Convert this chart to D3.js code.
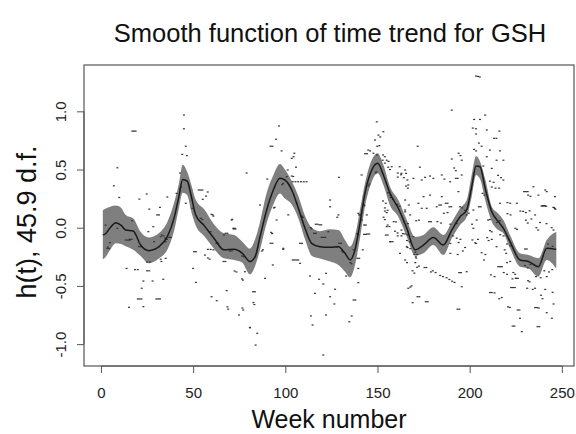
<!DOCTYPE html>
<html><head><meta charset="utf-8">
<script src="https://cdn.jsdelivr.net/npm/d3@7"></script>
<style>
html,body{margin:0;padding:0;background:#fff;}
svg{display:block;font-family:"Liberation Sans",Arial,Helvetica,sans-serif;}
</style></head>
<body><svg id="chart" width="576" height="434"></svg>
<script>
// ---- data ----
const titleText = "Smooth function of time trend for GSH";
const xLabel = "Week number";
const yLabel = "h(t), 45.9 d.f.";
const xTicks = [0, 50, 100, 150, 200, 250];
const yTicks = [-1.0, -0.5, 0.0, 0.5, 1.0];
const yTickLabels = ["-1.0", "-0.5", "0.0", "0.5", "1.0"];

// smooth fit h(t) with confidence band
const curveWeeks = [1,2,5,8,11,13.4,17.5,21.5,26,31.5,36,39.6,42.3,44.3,46.8,49,51.4,55.9,61.3,66.7,72.2,76.7,80.8,83.6,86.3,89.9,93.5,97.1,99.8,103.5,107.1,110.7,114.3,118.8,124.3,128.8,132.4,135.1,137.8,140.5,143.2,146.9,150.1,153.2,156.8,161.3,165.9,170.4,174.9,180.3,185.7,190.3,194.8,198.4,201.1,203.5,205.6,208.4,212,215.6,218.3,221.9,227.3,231.9,237.3,241.8,247];
const fitValues = [-0.06,-0.057,0.0,0.043,0.02,-0.02,-0.028,-0.149,-0.197,-0.163,-0.077,0.08,0.27,0.415,0.40,0.27,0.11,0.02,-0.09,-0.19,-0.186,-0.22,-0.29,-0.25,-0.077,0.152,0.324,0.424,0.41,0.324,0.167,-0.005,-0.134,-0.163,-0.168,-0.163,-0.22,-0.277,-0.19,0.038,0.295,0.496,0.553,0.453,0.295,0.167,-0.005,-0.19,-0.149,-0.083,-0.149,-0.02,0.094,0.152,0.352,0.53,0.524,0.34,0.137,0.052,-0.005,-0.12,-0.277,-0.29,-0.335,-0.177,-0.186];
const upperValues = [0.15,0.16,0.18,0.19,0.17,0.11,0.08,-0.034,-0.083,-0.045,0.05,0.21,0.38,0.54,0.48,0.37,0.24,0.16,0.03,-0.048,-0.063,-0.12,-0.18,-0.10,0.05,0.30,0.45,0.547,0.50,0.40,0.27,0.10,0.0,-0.03,-0.014,-0.02,-0.106,-0.163,-0.07,0.152,0.38,0.582,0.64,0.539,0.352,0.238,0.066,-0.08,-0.063,0.003,-0.063,0.05,0.167,0.238,0.453,0.616,0.57,0.42,0.18,0.12,0.066,-0.063,-0.22,-0.235,-0.263,-0.106,-0.034];
const lowerValues = [-0.27,-0.26,-0.19,-0.134,-0.14,-0.16,-0.19,-0.243,-0.306,-0.263,-0.19,-0.03,0.167,0.30,0.28,0.14,0.02,-0.07,-0.18,-0.263,-0.277,-0.30,-0.40,-0.33,-0.19,0.04,0.20,0.295,0.25,0.20,0.08,-0.10,-0.24,-0.265,-0.29,-0.32,-0.378,-0.426,-0.32,-0.09,0.18,0.395,0.467,0.367,0.19,0.094,-0.077,-0.24,-0.22,-0.149,-0.235,-0.09,0.023,0.094,0.267,0.453,0.42,0.238,0.052,-0.02,-0.048,-0.177,-0.335,-0.35,-0.42,-0.277,-0.35];

// partial residuals (week, value)
const residWeeks = [45,17.9,18.8,17,45,46,44.1,46.6,8.9,79,7,24.8,9.9,20.8,36,53,54,55,57.9,57,55.2,41,42.9,32,26.2,30.5,31.5,60,61,71.2,
96.6,95,92,93,98,104.9,103.5,104.5,90.2,105.8,101.3,104,105.5,107,108.5,110,111.5,129.1,149.6,153.2,150.5,151.5,148.7,149.9,151,145,146,147.8,153,154,155,156,157.7,162,165,161,141.4,128.8,124.3,124.3,155.7,157,154,155.5,139.6,165,167,165.5,166.5,
203.5,204.5,205.5,190.3,208.4,202.4,205.6,201.7,203.4,209.3,216.1,203.5,213.2,214.5,205,206.5,171.8,202.4,203.5,211,216.5,194,195,209.3,190.3,195.7,214.6,218.3,173,191.6,192.5,207.4,212,163,165.5,184.9,195.7,215.4,217,169.5,175.8,178.5,180.3,186.3,189.4,192.5,193.5,211,213,218.3,234.6,241,241.8,246.3,229.5,230.5,231.5,166.7,174,175,178.5,184.9,193.9,187,188,194.8,196,207,208,212,214,216,216.5,220.5,222,225.6,231.7,233,237.3,239,240,241,245.8,246.5,165,176.7,172.2,182.1,202,205,206,198.4,227.5,229,235.5,
60.6,70.9,71.8,72.6,67.6,68.6,17,28.4,2.5,3.8,4.5,14.6,15.6,25.7,33,34,35.1,37,38,32.4,32.8,25,26.5,13.9,18.5,20,25,26.2,33.8,28,23,22.1,20,21,22,30,31,32,15.2,23,50.5,51.5,50,51.5,58,59.5,61,56.4,60,62.8,68.2,68.6,69,72.5,73.5,76.5,77,78.1,76.7,74.9,80.8,66.5,67.5,58,59,
86.3,101.6,92,93,95.3,98.9,104,105,106,107,108,93.2,82.5,83.5,82.7,83.2,77.2,80.8,84.8,83.9,113.4,116.1,113.9,114.8,118.3,122.1,120.6,122.1,127,124.3,126.6,136,134.7,120.6,137,138,139.6,116.5,117.5,118.5,119.5,108,109,128.2,129.2,130.2,139.1,140.1,133,140,141,142.7,143.7,142.7,143.7,142,139.6,154,155,155.5,156.5,154.5,155.5,157.2,158.2,161,163,165.9,162.2,166,166.7,
165,167.7,171,172.5,178,179,182.5,184.5,186,188,189,190,183.5,184.5,174,163,163.8,166,167.5,170.5,171.5,171,170.5,171.5,172.5,175.5,176.5,179,180,181.5,184,185.5,187.5,189,190.5,191.8,195.7,194.3,195.3,198.4,168.5,167.8,171.7,172.7,176.2,177.2,169.1,193.4,194.4,189.5,193.5,196.3,189.5,194,197.5,191,193,195,189.5,193,197.5,199.5,203.8,204.5,203.5,206.5,208.5,207.8,211.5,213.5,211,212,213.5,215.5,216.5,217.5,209.5,210.3,212,210,211,214.8,216.4,216.6,218.4,220.3,222,219.8,219,220.3,222,218.5,220.3,223.7,224.7,223.2,225,222.5,223.5,224.5,217.4,216,220.8,221.8,226,227,227.3,223.3,224.3,228.3,236.8,237.8,235.5,236.5,237.5,241.8,244.6,245.5,238.7,239.5,235.5,241,245,230,231.5,233,225.2,226.2,231.7,232.5,231.2,234.2,236,238.5,241.8,240.5,243,244.8,230,231,230.5,231.5,233.5,230.5,232.5,236.2,237.2,238.2,241.7,239.5,240.5,241.5,245.4,246.2,244.5,245.5,242.5,245,201.3,202,201.5,203,214.6,211,212,220.5,222.2,224.8,225.7,
143.3,144.3,149.6,152.8,154,155.8,156.8,161,162.8,164.3,166.2,144.2,144.5,145.5,153,154.5,157.2,158.5,160.7,162,153.3,154,158.8,160,164.5,166.5,159.5,160.9,164.8,166.3,169.5,166.3,167.8,155,156.8,165,170,170.8,169,170,
3.4,8.9,15.6,16.6,20.6,21.8,28.8,34.8,35.8,42.9,43.4,46,49.5,54.1,55,59.5,62.6,63.6,66.7,69.9,71,76.5,77.5,72,73,32.4,35.1,13.5,4.9,
87.3,87.9,92.4,92.9,93.8,94.2,98.3,98.8,100.8,103.5,104.3,106.2,109,109.6,113.8,114.3,115.6,116.6,119.7,120.7,121.7,123.3,127.9,130.7,131.3,135.3,135.9,137,139,139.5,141.4,142.5,142.9,145.2,145.6,149,149.4,89,98.9];
const residValues = [0.968,0.83,0.83,0.83,0.85,0.70,0.63,0.62,0.515,0.47,0.36,0.29,0.26,0.246,0.264,0.324,0.324,0.324,0.307,0.272,0.244,0.295,0.47,0.175,0.16,0.11,0.11,0.115,0.10,0.072,
0.874,0.76,0.70,0.70,0.66,0.64,0.596,0.61,0.418,0.52,0.496,0.395,0.395,0.395,0.395,0.395,0.395,0.433,0.91,0.825,0.796,0.78,0.753,0.70,0.705,0.667,0.66,0.64,0.625,0.61,0.58,0.57,0.524,0.524,0.496,0.435,0.453,0.11,0.18,0.238,0.30,0.28,0.17,0.15,0.124,0.238,0.195,0.358,0.34,
1.303,1.30,1.295,1.01,0.968,0.93,0.93,0.856,0.85,0.84,0.83,0.805,0.768,0.768,0.727,0.70,0.70,0.673,0.66,0.667,0.66,0.64,0.62,0.61,0.59,0.58,0.58,0.58,0.52,0.513,0.49,0.53,0.51,0.467,0.467,0.453,0.453,0.45,0.43,0.424,0.433,0.444,0.424,0.418,0.395,0.424,0.424,0.40,0.39,0.41,0.352,0.324,0.31,0.267,0.31,0.31,0.31,0.367,0.41,0.267,0.28,0.267,0.31,0.21,0.21,0.18,0.17,0.295,0.28,0.35,0.34,0.34,0.21,0.216,0.21,0.21,0.28,0.27,0.28,0.186,0.186,0.186,0.173,0.16,0.152,0.167,0.21,0.18,0.152,0.18,0.18,0.11,0.143,0.14,0.11,
0.11,0.066,-0.005,-0.005,-0.048,-0.048,0.06,0.009,0.023,-0.166,-0.18,-0.106,-0.106,-0.034,-0.063,-0.07,-0.12,-0.083,-0.083,-0.27,-0.29,-0.295,-0.295,-0.35,-0.36,-0.36,-0.37,-0.37,-0.443,-0.458,-0.458,-0.52,-0.612,-0.612,-0.612,-0.612,-0.612,-0.612,-0.684,-0.678,-0.206,-0.206,-0.35,-0.47,-0.186,-0.186,-0.19,-0.235,-0.593,-0.627,-0.54,-0.68,-0.70,-0.372,-0.38,-0.44,-0.45,-0.378,-0.69,-0.75,-0.86,-0.29,-0.29,-0.26,-0.27,
0.195,0.11,-0.134,-0.134,0.066,-0.186,-0.277,-0.277,-0.277,-0.277,-0.306,-0.32,-0.55,-0.55,-0.643,-0.66,-0.707,-0.856,-0.907,-1.008,-0.415,-0.564,-0.758,-0.836,-0.443,-0.392,-0.484,-0.75,-0.529,-0.593,-0.655,-0.758,-0.808,-1.094,-0.621,-0.621,-0.472,0.03,0.03,0.025,0.025,-0.134,-0.134,0.09,-0.134,-0.134,-0.263,-0.263,-0.415,0.11,0.11,0.023,0.023,-0.057,-0.057,-0.19,-0.35,0.143,0.13,0.023,0.01,-0.063,-0.063,-0.12,-0.12,-0.07,-0.07,-0.163,-0.22,-0.30,-0.52,
0.137,0.11,0.06,0.065,0.052,0.052,0.052,0.04,0.124,0.13,0.18,0.18,0.195,0.195,0.167,-0.02,-0.05,-0.11,-0.12,-0.21,-0.23,-0.26,-0.30,-0.34,-0.33,-0.342,-0.342,-0.38,-0.37,-0.385,-0.41,-0.42,-0.43,-0.445,-0.46,-0.47,-0.507,-0.386,-0.386,-0.378,-0.50,-0.51,-0.593,-0.593,-0.636,-0.636,-0.644,-0.70,-0.70,-0.22,-0.23,-0.20,-0.135,-0.127,-0.17,-0.07,-0.09,-0.10,0.03,0.036,0.15,0.125,0.066,-0.10,-0.135,-0.215,-0.23,-0.277,-0.405,-0.42,-0.557,-0.557,-0.56,-0.335,-0.335,-0.335,-0.085,-0.11,-0.10,0.066,0.07,0.045,0.06,-0.06,-0.07,-0.14,-0.155,-0.22,-0.19,-0.30,-0.29,-0.385,-0.40,-0.385,-0.40,-0.44,-0.435,-0.514,-0.514,-0.514,-0.60,-0.61,-0.68,-0.685,-0.707,-0.707,-0.778,-0.845,-0.845,-0.893,-0.85,-0.85,-0.686,-0.686,-0.69,-0.73,-0.778,-0.655,-0.58,-0.61,-0.52,-0.53,-0.555,-0.325,-0.345,-0.315,-0.435,-0.435,-0.455,-0.465,-0.52,-0.53,-0.42,-0.43,-0.42,-0.37,-0.38,-0.36,-0.183,-0.183,0.065,0.04,0.075,0.13,0.145,0.0,-0.02,0.045,0.035,0.19,0.19,0.185,0.175,0.165,0.0,-0.02,-0.14,-0.16,0.03,-0.005,-0.105,-0.13,-0.163,-0.025,-0.035,0.12,0.11,-0.005,-0.015,
0.636,0.636,0.625,0.58,0.555,0.52,0.50,0.47,0.455,0.43,0.41,0.11,-0.054,-0.054,0.23,0.21,0.26,0.245,0.2,0.185,0.09,0.07,0.052,0.05,0.052,0.035,-0.03,-0.045,-0.054,-0.06,-0.077,-0.17,-0.18,0.009,-0.12,-0.277,-0.23,-0.25,-0.37,-0.39,
-0.177,-0.005,-0.1,-0.1,-0.163,-0.163,-0.12,-0.09,-0.1,0.33,0.35,0.21,0.167,0.08,0.07,-0.034,-0.134,-0.134,-0.063,-0.2,-0.2,-0.243,-0.25,-0.011,-0.011,-0.077,-0.263,-0.106,-0.129,
-0.2,-0.19,-0.04,-0.05,0.17,0.175,0.37,0.38,0.438,0.444,0.44,0.21,0.1,0.09,0.0,-0.01,-0.048,-0.048,-0.083,-0.083,-0.083,-0.034,-0.163,-0.2,-0.21,-0.3,-0.31,-0.19,-0.05,-0.06,0.066,0.2,0.19,0.36,0.375,0.47,0.48,-0.435,-0.177];

// ---- layout ----
const box = {left: 84, right: 574, top: 65, bottom: 366};
const svg = d3.select("#chart");
const x = d3.scaleLinear().domain([-9.2, 256.6]).range([box.left, box.right]);
const y = d3.scaleLinear().domain([-1.188, 1.398]).range([box.bottom, box.top]);

const curve = curveWeeks.map((w, i) => ({w, f: fitValues[i], u: upperValues[i], l: lowerValues[i]}));
const resid = residWeeks.map((w, i) => ({w, v: residValues[i]}));

// band
svg.append("path")
  .datum(curve)
  .attr("fill", "#7f7f7f")
  .attr("d", d3.area().curve(d3.curveMonotoneX).x(d => x(d.w)).y0(d => y(d.l)).y1(d => y(d.u)));

// residual points
svg.append("g").selectAll("rect").data(resid).join("rect")
  .attr("x", d => x(d.w) - 1)
  .attr("y", d => y(d.v) - 0.6)
  .attr("width", 2)
  .attr("height", 1.2)
  .attr("fill", "#333");

// fit line
svg.append("path")
  .datum(curve)
  .attr("fill", "none")
  .attr("stroke", "#1a1a1a")
  .attr("stroke-width", 1.5)
  .attr("d", d3.line().curve(d3.curveMonotoneX).x(d => x(d.w)).y(d => y(d.f)));

// box
svg.append("rect")
  .attr("x", box.left).attr("y", box.top)
  .attr("width", box.right - box.left).attr("height", box.bottom - box.top)
  .attr("fill", "none").attr("stroke", "#555").attr("stroke-width", 1.2);

// x axis
const xAxis = d3.axisBottom(x).tickValues(xTicks).tickSize(7).tickPadding(14).tickFormat(d3.format("d"));
const gx = svg.append("g").attr("transform", `translate(0,${box.bottom})`).call(xAxis);
gx.select(".domain").attr("d", `M${x(xTicks[0])},0H${x(xTicks[xTicks.length-1])}`).attr("stroke", "#555");
gx.selectAll(".tick line").attr("stroke", "#555");
gx.selectAll(".tick text").attr("font-size", 15).attr("fill", "#222").attr("font-family", "Liberation Sans, Arial, sans-serif");

// y axis
const yAxis = d3.axisLeft(y).tickValues(yTicks).tickSize(7).tickFormat((d, i) => yTickLabels[i]);
const gy = svg.append("g").attr("transform", `translate(${box.left},0)`).call(yAxis);
gy.select(".domain").attr("d", `M0,${y(yTicks[0])}V${y(yTicks[yTicks.length-1])}`).attr("stroke", "#555");
gy.selectAll(".tick line").attr("stroke", "#555");
gy.selectAll(".tick text")
  .attr("font-size", 15).attr("fill", "#222").attr("font-family", "Liberation Sans, Arial, sans-serif")
  .attr("x", null).attr("dy", null)
  .attr("text-anchor", "middle")
  .attr("transform", "translate(-18,0) rotate(-90)");

// titles
svg.append("text").attr("x", 330).attr("y", 42).attr("text-anchor", "middle")
  .attr("font-size", 25.5).attr("fill", "#111").text(titleText);
svg.append("text").attr("x", 329).attr("y", 428).attr("text-anchor", "middle")
  .attr("font-size", 25).attr("fill", "#111").text(xLabel);
svg.append("text").attr("transform", "translate(36,222) rotate(-90)").attr("text-anchor", "middle")
  .attr("font-size", 27).attr("fill", "#111").text(yLabel);
</script></body></html>
